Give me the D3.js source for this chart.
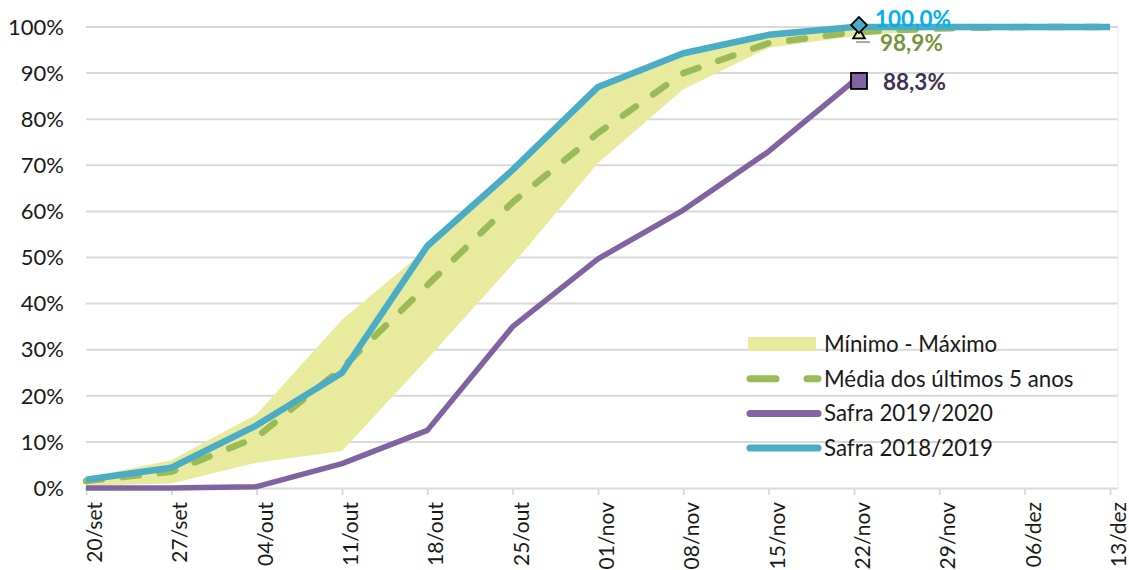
<!DOCTYPE html>
<html>
<head>
<meta charset="utf-8">
<script src="https://cdn.jsdelivr.net/npm/d3@7"></script>
<style>
body{margin:0;background:#fff;}
svg{display:block;font-family:Lato,"Open Sans",sans-serif;}
</style>
</head>
<body>
<svg id="chart" width="1129" height="570"></svg>
<script>
const categories = ["20/set","27/set","04/out","11/out","18/out","25/out","01/nov","08/nov","15/nov","22/nov","29/nov","06/dez","13/dez"];
const bandMin = [0.5,1,5.5,8,28,48.5,70.5,86.5,95.5,98,99.5,100,100];
const bandMax = [2.2,6,16,36.5,52,69,87,94.3,98.3,100,100,100,100];
const media5 = [1.5,3.5,11,26,44,62,77,90,96.5,98.9,99.7,100,100];
const safra1920 = [0,0,0.3,5.3,12.5,35,49.7,60.3,73,88.3];
const safra1819 = [1.8,4.4,13.6,25,52.5,69,87,94.3,98.3,100,100,100,100];
const yTicks = [0,10,20,30,40,50,60,70,80,90,100];
const endLabels = [
  {text:"100,0%", value:100, color:"#00B0F0", dx:16, dy:-8},
  {text:"98,9%", value:98.9, color:"#77933C", dx:21, dy:11},
  {text:"88,3%", value:88.3, color:"#403152", dx:24, dy:1}
];

(function(){
const svg = d3.select("#chart");
const mLeft = 86, mRight = 1110, mTop = 27, mBottom = 488;
const x = d3.scalePoint().domain(categories).range([mLeft, mRight]);
const y = d3.scaleLinear().domain([0,100]).range([mBottom, mTop]);

svg.append("g").selectAll("line").data(yTicks.filter(d=>d>0)).join("line")
  .attr("x1", mLeft).attr("x2", 1118)
  .attr("y1", d=>y(d)).attr("y2", d=>y(d))
  .attr("stroke","#D9D9D9").attr("stroke-width",2);
svg.append("line").attr("x1",1118).attr("x2",1118).attr("y1",y(100)).attr("y2",mBottom)
  .attr("stroke","#EAEAEA").attr("stroke-width",1);

svg.append("g").selectAll("text").data(yTicks).join("text")
  .attr("x", 64).attr("y", d=>y(d)).attr("dy","0.35em")
  .attr("text-anchor","end").attr("font-size",22).attr("fill","#1a1a1a")
  .text(d=>d+"%");

const area = d3.area().x((d,i)=>x(categories[i])).y0((d,i)=>y(bandMin[i])).y1(d=>y(d));
svg.append("path").datum(bandMax).attr("d", area).attr("fill","#E8EA9E");

const xAxis = d3.axisBottom(x).tickSize(7).tickFormat(d=>d);
const gx = svg.append("g").attr("transform",`translate(0,${mBottom})`).call(xAxis);
gx.select(".domain").attr("stroke","#D9D9D9").attr("stroke-width",2)
  .attr("d",`M${mLeft-1},0.5H1118`);
gx.selectAll(".tick line").attr("stroke","#D9D9D9").attr("stroke-width",2);
gx.selectAll(".tick text")
  .attr("font-size",21).attr("fill","#1a1a1a").attr("font-family","Lato,'Open Sans',sans-serif")
  .attr("text-anchor","end").attr("transform","rotate(-90)")
  .attr("x",-14).attr("y",8).attr("dy","0.35em");

const line = d3.line().x((d,i)=>x(categories[i])).y(d=>y(d));

svg.append("path").datum(media5).attr("d",line).attr("fill","none")
  .attr("stroke","#9BBB59").attr("stroke-width",6.5).attr("stroke-linecap","round")
  .attr("stroke-dasharray","16,21");
svg.append("path").datum(safra1920).attr("d",line).attr("fill","none")
  .attr("stroke","#8064A2").attr("stroke-width",5.5).attr("stroke-linejoin","round");
svg.append("path").datum(safra1819).attr("d",line).attr("fill","none")
  .attr("stroke","#4BACC6").attr("stroke-width",6.5).attr("stroke-linejoin","round");

const mx = x("22/nov") + 5;
svg.append("line").attr("x1",mx-3).attr("x2",mx+11).attr("y1",y(98.9)+10).attr("y2",y(98.9)+10)
  .attr("stroke","#A6A6A6").attr("stroke-width",2);
svg.append("path").attr("d", d3.symbol(d3.symbolTriangle, 60)())
  .attr("transform",`translate(${mx},${y(98.9)+3})`)
  .attr("fill","#E8EA9E").attr("stroke","#000").attr("stroke-width",1.8);
svg.append("path").attr("d", d3.symbol(d3.symbolSquare, 125)())
  .attr("transform",`translate(${mx},${y(100)-2}) rotate(45)`)
  .attr("fill","#4BACC6").attr("stroke","#000").attr("stroke-width",1.8);
svg.append("rect").attr("x",mx-8).attr("y",y(88.3)-8).attr("width",16).attr("height",16)
  .attr("fill","#8064A2").attr("stroke","#000").attr("stroke-width",1.8);

svg.append("g").selectAll("text").data(endLabels).join("text")
  .attr("x", d=>mx+d.dx).attr("y", d=>y(d.value)+d.dy).attr("dy","0.35em")
  .attr("font-size",22.5).attr("font-weight","bold").attr("fill",d=>d.color)
  .text(d=>d.text);

const legendItems = [
  {label:"Mínimo - Máximo", type:"band"},
  {label:"Média dos últimos 5 anos", type:"dash"},
  {label:"Safra 2019/2020", type:"purple"},
  {label:"Safra 2018/2019", type:"blue"}
];
const lg = svg.append("g").attr("transform","translate(748,344)");
legendItems.forEach((it,i)=>{
  const g = lg.append("g").attr("transform",`translate(0,${i*34.7})`);
  if(it.type==="band"){
    g.append("rect").attr("x",0).attr("y",-7).attr("width",68).attr("height",14).attr("fill","#E8EA9E");
  } else if(it.type==="dash"){
    g.append("line").attr("x1",2).attr("x2",70).attr("y1",0).attr("y2",0)
      .attr("stroke","#9BBB59").attr("stroke-width",7).attr("stroke-linecap","round")
      .attr("stroke-dasharray","26,31");
  } else {
    g.append("line").attr("x1",2).attr("x2",70).attr("y1",0).attr("y2",0)
      .attr("stroke", it.type==="purple"?"#8064A2":"#4BACC6").attr("stroke-width",7).attr("stroke-linecap","round");
  }
  g.append("text").attr("x",76).attr("y",0).attr("dy","0.35em")
    .attr("font-size",22.3).attr("fill","#1a1a1a").text(it.label);
});
})();
</script>
</body>
</html>
